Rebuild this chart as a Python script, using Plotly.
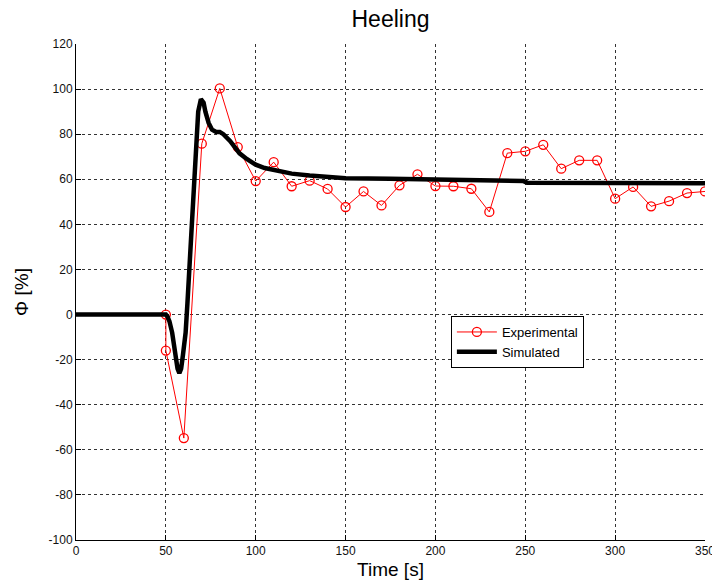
import plotly.graph_objects as go

# Experimental data
exp_t = [50, 50, 60, 70, 80, 90, 100, 110, 120, 130, 140, 150, 160, 170, 180, 190, 200,
         210, 220, 230, 240, 250, 260, 270, 280, 290, 300, 310, 320, 330, 340, 350]
exp_phi = [0, -16, -54.8, 75.8, 100.3, 74.3, 59.2, 67.6, 56.9, 59.4, 55.7, 47.7, 54.6, 48.4,
           57.3, 62.2, 57.0, 56.9, 55.8, 45.5, 71.6, 72.4, 75.3, 64.7, 68.4, 68.4, 51.4, 56.6,
           48.0, 50.3, 53.9, 54.6]

# Simulated data
sim_t = [0, 50, 51, 52, 53.5, 55.3, 56.5, 57.5, 58.5, 59.5, 61, 62, 63, 64, 65.5, 66.5, 68,
         69.5, 71, 72, 73.8, 75.7, 78, 80, 82, 85.7, 88, 91, 95, 100, 105, 110, 120, 130, 140,
         150, 175, 200, 225, 249, 251, 275, 300, 325, 350]
sim_phi = [0, 0, -1, -3, -8, -19, -24, -26, -24, -18, -8, 5, 20, 35, 58, 75, 90,
           95.5, 94, 90, 85, 82, 81, 81, 80, 77, 74.5, 71.5, 69, 66.5, 65, 64, 62.5, 61.7, 61,
           60.5, 60.2, 60, 59.5, 59.2, 58.5, 58.4, 58.3, 58.2, 58.2]

x_ticks = [0, 50, 100, 150, 200, 250, 300, 350]
y_ticks = [-100, -80, -60, -40, -20, 0, 20, 40, 60, 80, 100, 120]

fig = go.Figure()
fig.add_trace(go.Scatter(
    x=exp_t, y=exp_phi, mode="lines+markers", name="Experimental",
    line=dict(color="#ff0000", width=1),
    marker=dict(symbol="circle-open", size=9, color="#ff0000", line=dict(width=1.3, color="#ff0000")),
))
fig.add_trace(go.Scatter(
    x=sim_t, y=sim_phi, mode="lines", name="Simulated",
    line=dict(color="black", width=4.5),
))

font_family = "Liberation Sans, Arial, sans-serif"
fig.update_layout(
    width=712, height=586,
    margin=dict(l=76, r=7, t=44, b=46),
    paper_bgcolor="white", plot_bgcolor="white",
    font=dict(family=font_family, color="black", size=12),
    title=dict(text="Heeling", xref="paper", x=0.5, xanchor="center", y=0.967, yanchor="middle",
               font=dict(size=23, family=font_family, color="black")),
    showlegend=True,
    legend=dict(x=0.596, y=0.4516, xanchor="left", yanchor="top",
                bgcolor="white", bordercolor="black", borderwidth=1,
                font=dict(size=13, family=font_family, color="black"),
                tracegroupgap=0, itemwidth=40),
    xaxis=dict(range=[0, 350], tickvals=x_ticks, ticktext=[str(v) for v in x_ticks],
               showgrid=True, gridcolor="#333333", griddash="dot", gridwidth=1,
               zeroline=False, showline=True, linecolor="black", linewidth=1,
               ticks="inside", ticklen=5, tickcolor="black", ticklabeloverflow="allow",
               automargin=False,
               title=dict(text="Time [s]", font=dict(size=19, family=font_family), standoff=5),
               tickfont=dict(size=12, color="#111111")),
    yaxis=dict(range=[-100, 120], tickvals=y_ticks, ticktext=[str(v) for v in y_ticks],
               showgrid=True, gridcolor="#333333", griddash="dot", gridwidth=1,
               zeroline=False, showline=True, linecolor="black", linewidth=1,
               ticks="inside", ticklen=5, tickcolor="black", automargin=False,
               title=dict(text="Φ [%]", font=dict(size=19, family=font_family), standoff=14),
               tickfont=dict(size=12, color="#111111")),
)

fig.write_html("out.html")
